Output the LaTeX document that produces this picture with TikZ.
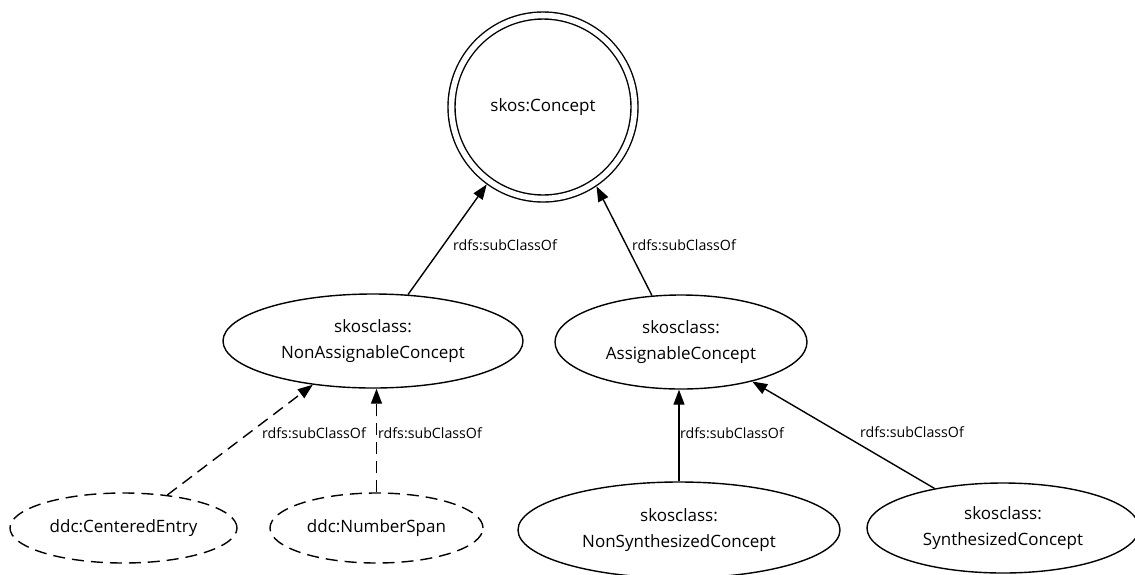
\documentclass[tikz,border=0pt]{standalone}
\usepackage{fontspec}
\setmainfont{Open Sans}
\usetikzlibrary{arrows.meta,shapes.geometric}
\begin{document}
\begin{tikzpicture}[x=1pt,y=-1pt,
  nodefont/.style={font=\fontsize{17}{26}\selectfont},
  cls/.style={ellipse, draw, line width=1.4pt, inner sep=0pt, align=center, nodefont},
  dsh/.style={dash pattern=on 12pt off 7pt},
  ddc/.style={cls, dsh},
  conc/.style={circle, draw, double, double distance=5.6pt, line width=1.4pt,
    minimum size=183pt, inner sep=0pt, outer sep=4.2pt, nodefont},
  sub/.style={-{Triangle[length=15pt,width=11pt]}, line width=1.4pt},
  lbl/.style={font=\fontsize{14.2}{16}\selectfont, inner sep=0pt, anchor=west}
]
\useasboundingbox (0,0) rectangle (1135,574);

\node[conc] (concept) at (543,107) {skos:Concept};
\node[cls, minimum width=300pt, minimum height=94pt] (nonassign) at (373,341) {skosclass:\\NonAssignableConcept};
\node[cls, minimum width=252pt, minimum height=94pt] (assign) at (681,342) {skosclass:\\AssignableConcept};
\node[ddc, minimum width=227pt, minimum height=70pt] (centered) at (123.5,528) {ddc:CenteredEntry};
\node[ddc, minimum width=213pt, minimum height=70pt] (numspan) at (376.5,528) {ddc:NumberSpan};
\node[cls, minimum width=322pt, minimum height=96pt] (nonsynth) at (679,530) {skosclass:\\NonSynthesizedConcept};
\node[cls, minimum width=272pt, minimum height=90pt] (synth) at (1003,528) {skosclass:\\SynthesizedConcept};

\draw[sub] (nonassign.53) -- (concept.234);
\draw[sub] (assign.122) -- (concept.304);
\draw[sub,dsh] (centered.37) -- (nonassign.216);
\draw[sub,dsh] (numspan.north) -- (numspan.north |- nonassign.south);
\draw[sub] (nonsynth.north) -- (nonsynth.north |- assign.south);
\draw[sub] (synth.150) -- (assign.331);

\node[lbl] (l1) at (453,245) {rdfs:subClassOf};
\node[lbl] (l2) at (632,245) {rdfs:subClassOf};
\node[lbl] (l3) at (262,433) {rdfs:subClassOf};
\node[lbl] (l4) at (378,433) {rdfs:subClassOf};
\node[lbl] (l5) at (680,433) {rdfs:subClassOf};
\node[lbl] (l6) at (860,432) {rdfs:subClassOf};
\end{tikzpicture}
\end{document}
